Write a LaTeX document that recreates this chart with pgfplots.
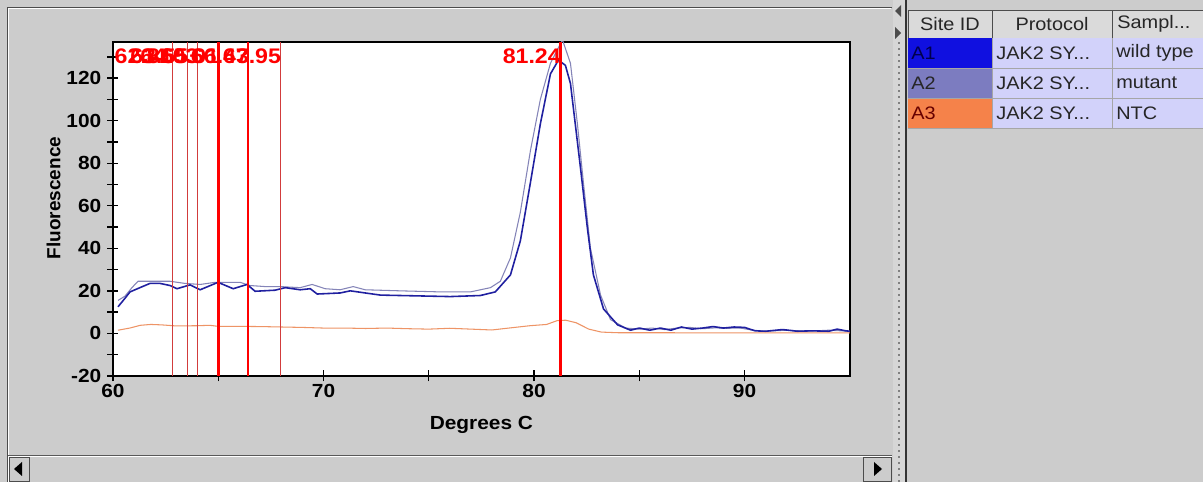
\documentclass[border=0pt]{standalone}
\usepackage{fontspec}
\setmainfont{Liberation Sans}[FakeStretch=1.1]
\newfontfamily\plainfont{Liberation Sans}
\usepackage{pgfplots}
\pgfplotsset{compat=1.18}
\definecolor{uigrey}{HTML}{CCCCCC}
\definecolor{hdrgrey}{HTML}{DADADA}
\definecolor{cellblue}{HTML}{D2D2FA}
\definecolor{aone}{HTML}{1010E0}
\definecolor{atwo}{HTML}{7C7CC0}
\definecolor{athree}{HTML}{F5824A}
\definecolor{wtline}{HTML}{2020A0}
\definecolor{mutline}{HTML}{8484B8}
\definecolor{ntcline}{HTML}{EE9466}
\definecolor{meltred}{HTML}{FF0000}
\definecolor{thinred}{HTML}{D23C3C}

\begin{document}
\begin{tikzpicture}
% window chrome, in screen pixels
\begin{scope}[x=0.02cm,y=-0.02cm,shift={(0,9.64cm)}]
\fill[uigrey] (0,0) rectangle (1203,482);
\useasboundingbox (0,0) rectangle (1203,482);
% left panel frame
\draw[gray!60!black] (7,482) -- (7,7) -- (892,7);
\draw[white] (8,482) -- (8,8) -- (891,8);
% scroll bar
\draw[gray!70!black] (8,455) -- (892,455);
\draw[white] (8,456) -- (892,456);
\draw[fill=uigrey,draw=gray!60!black] (9,457) rectangle (29,481);
\fill[black] (14,469) -- (22,462) -- (22,476) -- cycle;
\draw[fill=uigrey,draw=gray!60!black] (863,457) rectangle (891,481);
\fill[black] (882,469) -- (874,462) -- (874,476) -- cycle;
% split bar
\fill[uigrey!80!white] (893,0) rectangle (905,482);
\foreach \yy in {42,48,...,480} {
  \fill[gray] (898,\yy) rectangle (900,\yy+2);
}
\draw[gray!40!black,line width=0.9pt] (906,0) -- (906,482);
\fill[gray!60!black] (895,11) -- (901,5) -- (901,17) -- cycle;
\fill[gray!60!black] (901,33) -- (895,27) -- (895,39) -- cycle;
% table header
\begin{scope}[every node/.style={font=\fontsize{10.3}{12}\selectfont,text=black!85,inner sep=0}]
\draw[fill=hdrgrey,draw=gray!60!black] (908,10) rectangle (992,38);
\draw[fill=hdrgrey,draw=gray!60!black] (992,10) rectangle (1112,38);
\draw[fill=hdrgrey,draw=gray!60!black] (1112,10) rectangle (1203,38);
\node at (950,24) {Site ID};
\node at (1052,24) {Protocol};
\node[anchor=west] at (1117,24) {Sampl...};
% rows
\fill[aone] (908,38) rectangle (992,68);
\fill[atwo] (908,68) rectangle (992,98);
\fill[athree] (908,98) rectangle (992,128);
\fill[cellblue] (992,38) rectangle (1203,128);
\draw[gray!70] (992,38) -- (992,128) (1112,38) -- (1112,128);
\draw[gray!70] (908,68) -- (1203,68) (908,98) -- (1203,98) (908,128) -- (1203,128);
\node[anchor=west,text=blue!30!black] at (911,53) {A1};
\node[anchor=west] at (911,83) {A2};
\node[anchor=west,text=red!40!black] at (911,113) {A3};
\node[anchor=west] at (996,53) {JAK2 SY...};
\node[anchor=west] at (996,83) {JAK2 SY...};
\node[anchor=west] at (996,113) {JAK2 SY...};
\node[anchor=west] at (1116,53) {wild type};
\node[anchor=west] at (1116,83) {mutant};
\node[anchor=west] at (1116,113) {NTC};
\end{scope}
\end{scope}

\begin{axis}[
  at={(2.26cm,2.12cm)}, anchor=south west,
  scale only axis, width=14.74cm, height=6.68cm,
  xmin=60, xmax=95, ymin=-20, ymax=137,
  xtick={60,70,80,90}, minor xtick={65,75,85},
  ytick={-20,0,...,120}, minor ytick={-10,10,...,130},
  xtick pos=bottom, ytick pos=left,
  tick align=center, major tick length=0.22cm, minor tick length=0.22cm,
  tick style={black,line width=0.8pt},
  axis line style={black,line width=1pt},
  axis background/.style={fill=white},
  /pgf/number format/assume math mode=true,
  ticklabel style={font=\fontsize{10.8}{12}\selectfont\bfseries},
  xticklabel style={yshift=2pt},
  xlabel={Degrees C},
  ylabel={\plainfont Fluorescence},
  label style={font=\fontsize{10.8}{12}\selectfont\bfseries},
  xlabel style={at={(axis description cs:0.5,0)},anchor=center,yshift=-0.98cm},
  ylabel style={at={(axis description cs:-0.0807,0.533)},anchor=center},
]
% A2 mutant
\addplot[mutline,line width=0.6pt] coordinates {
(60.24,15.5) (60.57,17.5) (60.90,21.5) (61.19,24.5) (62.71,24.5) (63.42,23.5)
(64.14,23) (64.85,24) (66.04,24) (66.51,22.5) (67.23,22) (67.94,22)
(68.89,21.5) (69.46,23) (70.08,21) (70.79,20.5) (71.41,22) (71.98,20.5)
(73.65,20) (75.55,19.5) (76.98,19.5) (77.93,21.5) (78.40,24.5) (78.88,35.5)
(79.35,57) (79.83,86) (80.30,110) (80.78,127) (81.35,138) (81.73,127)
(82.06,98.5) (82.35,70.5) (82.68,40) (83.16,18) (83.63,6.5) (84.35,2.5)
(85.0,2) (85.6,2.5) (86.2,1.8) (86.8,2.5) (87.4,2.8) (88.0,2.2) (88.6,2.6)
(89.2,2.4) (89.8,2.5) (90.4,1.5) (91.0,1) (92.0,1.5) (93.0,1) (94.0,1.5) (95.0,1)
};
% A1 wild type
\addplot[wtline,line width=0.9pt] coordinates {
(60.24,12.5) (60.57,16.5) (60.81,19.5) (61.28,21.5) (61.76,23.5) (62.23,23.5)
(62.71,22.5) (63.04,21) (63.66,22.8) (64.14,20.5) (64.99,24) (65.71,21)
(66.37,23) (66.75,19.8) (67.70,20.3) (68.18,21.5) (68.89,20.5) (69.37,21)
(69.70,18.5) (70.79,19) (71.27,20) (72.70,18) (73.65,17.8) (76.02,17.3)
(77.45,17.8) (78.16,19.5) (78.88,27.5) (79.35,43.5) (79.83,71) (80.30,98.5)
(80.78,122) (81.16,128.5) (81.49,126) (81.73,117.5) (82.21,77.5) (82.54,49)
(82.82,27.5) (83.30,11.5) (83.97,4) (84.58,1.5)
(85.0,2.5) (85.5,1.5) (86.0,2.5) (86.5,1.5) (87.0,3) (87.5,2) (88.0,2.5)
(88.5,3.2) (89.0,2.5) (89.5,3) (90.0,2.8) (90.5,1.2) (91.0,1) (91.8,1.8)
(92.5,1) (93.2,1.2) (94.0,1) (94.4,2) (94.8,1.2) (95.0,1)
};
% A3 NTC
\addplot[ntcline,line width=0.6pt] coordinates {
(60.24,1.5) (60.8,2.5) (61.3,3.8) (61.8,4.2) (62.3,4.0) (63.0,3.5) (64.0,3.6)
(64.6,3.8) (65.0,3.3) (66.0,3.3) (67.0,3.2) (68.0,3) (69.0,2.8) (70.0,2.5)
(71.0,2.5) (72.0,2.3) (73.0,2.5) (74.0,2.2) (75.0,2) (76.0,2.4) (77.0,2)
(78.0,1.6) (78.8,2.5) (79.8,3.6) (80.6,4.2) (81.1,6) (81.5,6.2) (82.0,5)
(82.6,2) (83.2,0.6) (84.0,0.3) (86.0,0.3) (90.0,0.2) (95.0,0.2)
};
% melt peak markers
\addplot[thinred,line width=0.6pt] coordinates {(62.81,-20) (62.81,137)};
\addplot[thinred,line width=0.6pt] coordinates {(63.55,-20) (63.55,137)};
\addplot[thinred,line width=0.6pt] coordinates {(64.03,-20) (64.03,137)};
\addplot[meltred,line width=1.2pt] coordinates {(65.01,-20) (65.01,137)};
\addplot[meltred,line width=1.2pt] coordinates {(66.43,-20) (66.43,137)};
\addplot[thinred,line width=0.6pt] coordinates {(67.95,-20) (67.95,137)};
\addplot[meltred,line width=1.7pt] coordinates {(81.24,-20) (81.24,137)};
\begin{scope}[every node/.style={anchor=north east,inner sep=0,yshift=-0.12cm,xshift=0.02cm,
    text=meltred,font=\fontsize{12}{14}\selectfont\bfseries}]
\node at (axis cs:62.81,137) {62.81};
\node at (axis cs:63.55,137) {63.55};
\node at (axis cs:64.03,137) {64.03};
\node at (axis cs:65.01,137) {65.01};
\node at (axis cs:66.43,137) {66.43};
\node at (axis cs:67.95,137) {67.95};
\node at (axis cs:81.24,137) {81.24};
\end{scope}
\end{axis}
\end{tikzpicture}
\end{document}
